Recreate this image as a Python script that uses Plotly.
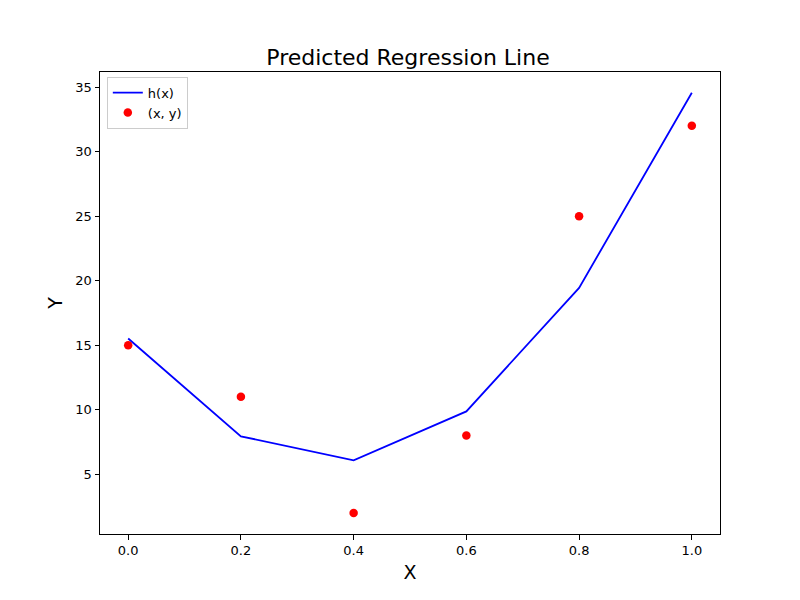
import plotly.graph_objects as go

x_vals = [0.0, 0.2, 0.4, 0.6, 0.8, 1.0]
y_points = [15, 11, 2, 8, 25, 32]
h_vals = [15.52, 7.94, 6.08, 9.87, 19.44, 34.56]
x_ticks = [0.0, 0.2, 0.4, 0.6, 0.8, 1.0]
x_tick_labels = ["0.0", "0.2", "0.4", "0.6", "0.8", "1.0"]
y_ticks = [5, 10, 15, 20, 25, 30, 35]

fig = go.Figure()
fig.add_trace(go.Scatter(x=x_vals, y=h_vals, mode="lines", name="h(x)",
                         line=dict(color="blue", width=1.8)))
fig.add_trace(go.Scatter(x=x_vals, y=y_points, mode="markers", name="(x, y)",
                         marker=dict(color="red", size=8.5, line=dict(width=0))))

axis_common = dict(showline=True, linecolor="black", linewidth=1, mirror=True,
                   ticks="outside", ticklen=4.5, tickwidth=1, tickcolor="black",
                   showgrid=False, zeroline=False, automargin=False,
                   tickfont=dict(family="DejaVu Sans", size=13, color="black"))

fig.update_layout(
    width=800, height=600,
    paper_bgcolor="white", plot_bgcolor="white",
    margin=dict(l=92, r=88, t=64, b=74),
    title=dict(text="Predicted Regression Line", x=0.5, xanchor="center",
               y=1 - 49 / 600, yanchor="middle",
               font=dict(family="DejaVu Sans", size=22, color="black")),
    xaxis=dict(range=[-0.05, 1.05], tickvals=x_ticks, ticktext=x_tick_labels,
               title=dict(text="X", font=dict(family="DejaVu Sans", size=19, color="black"), standoff=8),
               **axis_common),
    yaxis=dict(range=[0.37, 36.17], tickvals=y_ticks,
               title=dict(text="Y", font=dict(family="DejaVu Sans", size=19, color="black"), standoff=7),
               **axis_common),
    legend=dict(x=0.011, y=0.99, xanchor="left", yanchor="top",
                bgcolor="rgba(255,255,255,0.8)", bordercolor="#cccccc", borderwidth=1,
                font=dict(family="DejaVu Sans", size=13, color="black"),
                tracegroupgap=0, itemwidth=30),
    showlegend=True,
)

fig.write_html("out.html")
